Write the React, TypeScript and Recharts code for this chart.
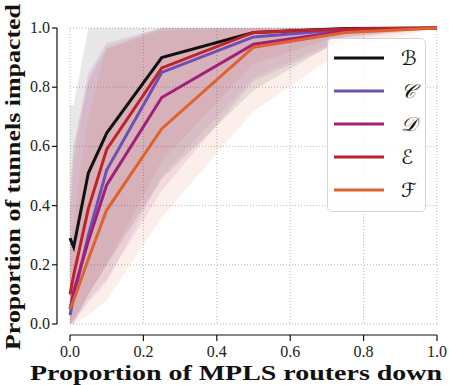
import React from 'react';
import { ComposedChart, Line, Area, XAxis, YAxis, CartesianGrid, Legend, Label } from 'recharts';

const xValues = [0, 0.01, 0.05, 0.1, 0.25, 0.5, 0.75, 1];

const lineB = [0.29, 0.26, 0.51, 0.645, 0.9, 0.985, 0.998, 1.0];
const lineC = [0.03, 0.09, 0.3, 0.52, 0.85, 0.97, 0.995, 1.0];
const lineD = [0.05, 0.11, 0.28, 0.47, 0.765, 0.945, 0.99, 1.0];
const lineE = [0.1, 0.165, 0.39, 0.59, 0.865, 0.985, 0.997, 1.0];
const lineF = [0.05, 0.08, 0.22, 0.385, 0.66, 0.935, 0.985, 1.0];

const lowB = [0.0, 0.0, 0.1, 0.2, 0.49, 0.79, 0.97, 1.0];
const highB = [0.74, 0.74, 1.0, 1.0, 1.0, 1.0, 1.0, 1.0];
const lowC = [0.0, 0.01, 0.07, 0.14, 0.5, 0.83, 0.97, 1.0];
const highC = [0.35, 0.55, 0.83, 0.94, 1.0, 1.0, 1.0, 1.0];
const lowD = [0.0, 0.01, 0.08, 0.15, 0.45, 0.82, 0.96, 1.0];
const highD = [0.4, 0.6, 0.85, 0.95, 1.0, 1.0, 1.0, 1.0];
const lowE = [0.0, 0.02, 0.1, 0.2, 0.55, 0.88, 0.98, 1.0];
const highE = [0.5, 0.6, 0.82, 0.93, 1.0, 1.0, 1.0, 1.0];
const lowF = [0.0, 0.0, 0.03, 0.08, 0.36, 0.72, 0.93, 1.0];
const highF = [0.25, 0.35, 0.7, 0.93, 0.99, 1.0, 1.0, 1.0];

const xTicks = [0, 0.2, 0.4, 0.6, 0.8, 1.0];
const yTicks = [0, 0.2, 0.4, 0.6, 0.8, 1.0];
const tickLabels = ['0.0', '0.2', '0.4', '0.6', '0.8', '1.0'];

const seriesKeys = ['B', 'C', 'D', 'E', 'F'];
const seriesNames = ['\u212C', '\uD835\uDC9E', '\uD835\uDC9F', '\u2130', '\u2131'];
const seriesColors = ['#111111', '#6e50b4', '#a11f78', '#c0222a', '#de6230'];
const bandColors = ['#000000', '#6e50b4', '#a11f78', '#c0222a', '#de6230'];
const bandOpacity = [0.09, 0.08, 0.1, 0.08, 0.1];

const lines = [lineB, lineC, lineD, lineE, lineF];
const lows = [lowB, lowC, lowD, lowE, lowF];
const highs = [highB, highC, highD, highE, highF];

const data = xValues.map((x, i) => {
  const row: Record<string, any> = { x };
  seriesKeys.forEach((k, s) => {
    row[k] = lines[s][i];
    row[k + '_band'] = [lows[s][i], highs[s][i]];
  });
  return row;
});

const fmt = (v: number) => tickLabels[Math.round(v * 5)] ?? String(v);

const SERIF = '"Liberation Serif", "DejaVu Serif", serif';

const XTick = (props: any) => {
  const { x, y, payload } = props;
  return (
    <text x={x} y={y} dy={13} textAnchor="middle" fontFamily={SERIF} fontSize={16} fill="#222">
      {fmt(payload.value)}
    </text>
  );
};

const YTick = (props: any) => {
  const { x, y, payload } = props;
  return (
    <text x={x} y={y} dy={5} textAnchor="end" fontFamily={SERIF} fontSize={16} fill="#222">
      {fmt(payload.value)}
    </text>
  );
};

const LegendBox = () => (
  <div
    style={{
      width: 99,
      height: 174,
      boxSizing: 'border-box',
      border: '1px solid #d4d4d4',
      borderRadius: 5,
      background: 'rgba(255,255,255,0.85)',
      paddingTop: 2,
    }}
  >
    {seriesKeys.map((k, i) => (
      <div key={k} style={{ height: 33, display: 'flex', alignItems: 'center' }}>
        <svg width={62} height={10} style={{ marginLeft: 5 }}>
          <line x1={1} y1={5} x2={51} y2={5} stroke={seriesColors[i]} strokeWidth={3} />
        </svg>
        <span
          style={{
            fontFamily: '"DejaVu Serif", "DejaVu Sans", serif',
            fontStyle: 'italic',
            fontSize: 20,
            color: '#111',
            marginLeft: 6,
            lineHeight: '20px',
          }}
        >
          {seriesNames[i]}
        </span>
      </div>
    ))}
  </div>
);

export default function App() {
  return (
    <div style={{ position: 'absolute', left: 0, top: 0, width: 449, height: 385, background: '#fff' }}>
      <ComposedChart
        width={449}
        height={385}
        data={data}
        margin={{ top: 28, right: 12, bottom: 0, left: 0 }}
      >
        <CartesianGrid stroke="#b8b8b8" strokeDasharray="1 2" strokeWidth={1} />
        <XAxis
          dataKey="x"
          type="number"
          domain={[0, 1]}
          ticks={xTicks}
          height={61}
          tickSize={6}
          tickMargin={14}
          axisLine={{ stroke: '#111', strokeWidth: 1.2, transform: 'translate(0, 11)' }}
          tickLine={{ stroke: '#111', strokeWidth: 1.2, transform: 'translate(0, 11)' }}
          tick={<XTick />}
          interval={0}
        >
          <Label
            content={() => (
              <text
                x={236}
                y={380}
                textAnchor="middle"
                fontFamily={SERIF}
                fontWeight="bold"
                fontSize={22}
                fill="#111"
                textLength={412}
                lengthAdjust="spacingAndGlyphs"
              >
                Proportion of MPLS routers down
              </text>
            )}
          />
        </XAxis>
        <YAxis
          type="number"
          domain={[0, 1]}
          ticks={yTicks}
          width={70}
          tickSize={5}
          tickMargin={15}
          axisLine={{ stroke: '#111', strokeWidth: 1.2, transform: 'translate(-13, 0)' }}
          tickLine={{ stroke: '#111', strokeWidth: 1.2, transform: 'translate(-13, 0)' }}
          tick={<YTick />}
          interval={0}
        >
          <Label
            content={() => (
              <text
                x={20}
                y={177}
                transform="rotate(-90, 20, 177)"
                textAnchor="middle"
                fontFamily={SERIF}
                fontWeight="bold"
                fontSize={22}
                fill="#111"
                textLength={346}
                lengthAdjust="spacingAndGlyphs"
              >
                Proportion of tunnels impacted
              </text>
            )}
          />
        </YAxis>
        {seriesKeys.map((k, i) => (
          <Area
            key={k + '_band'}
            dataKey={k + '_band'}
            type="linear"
            stroke="none"
            fill={bandColors[i]}
            fillOpacity={bandOpacity[i]}
            isAnimationActive={false}
            legendType="none"
            dot={false}
            activeDot={false}
          />
        ))}
        {seriesKeys.map((k, i) => (
          <Line
            key={k}
            dataKey={k}
            type="linear"
            stroke={seriesColors[i]}
            strokeWidth={3}
            dot={false}
            activeDot={false}
            isAnimationActive={false}
          />
        ))}
        <Legend
          layout="horizontal"
          verticalAlign="middle"
          align="center"
          wrapperStyle={{ left: 327, top: 38, width: 99, height: 174 }}
          content={() => <LegendBox />}
        />
      </ComposedChart>
    </div>
  );
}
